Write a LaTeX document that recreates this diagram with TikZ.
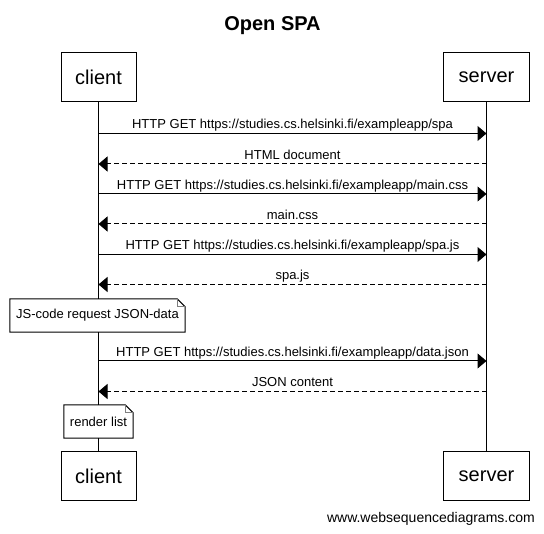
\documentclass[tikz,border=0pt]{standalone}
\usepackage{fontspec}
\setmainfont{Liberation Sans}
\usetikzlibrary{arrows.meta}

\begin{document}
\begin{tikzpicture}[x=1pt,y=-1pt,
  actor/.style={draw,line width=1pt,fill=white,inner sep=0pt,minimum height=49pt,font=\fontsize{20}{24}\selectfont},
  msg/.style={line width=1pt,-{Triangle[length=9pt,width=15pt]}},
  reply/.style={msg,dash pattern=on 5pt off 3pt},
  lbl/.style={midway,anchor=base,yshift=4.5pt,inner sep=0pt,font=\fontsize{13}{15}\selectfont},
  notebox/.style={fill=white,inner sep=0pt,minimum height=33pt,font=\fontsize{13}{15}\selectfont}]

\useasboundingbox (0,0) rectangle (544,534);

% 标题
\node[anchor=base,font=\bfseries\fontsize{20}{24}\selectfont] (title) at (272.5,31) {Open SPA};

% 参与者
\node[actor,minimum width=75pt] (clientTop) at (98.5,77.5) {client};
\node[actor,minimum width=86pt] (serverTop) at (486.5,77.5) {server};
\node[actor,minimum width=75pt] (clientBot) at (98.5,476) {client};
\node[actor,minimum width=86pt] (serverBot) at (486.5,476) {server};

% 生命线
\draw[line width=1pt] (clientTop) -- (clientBot);
\draw[line width=1pt] (serverTop) -- (serverBot);

% 消息端点
\foreach \n/\y in {1/133.5,2/164,3/194,4/224,5/254.5,6/284.5,7/361,8/391.5}{
  \coordinate (c\n) at (98.5,\y);
  \coordinate (s\n) at (486.5,\y);
}

% 消息
\draw[msg] (c1) -- (s1) node[lbl] {HTTP GET https://studies.cs.helsinki.fi/exampleapp/spa};
\draw[reply] (s2) -- (c2) node[lbl] {HTML document};
\draw[msg] (c3) -- (s3) node[lbl] {HTTP GET https://studies.cs.helsinki.fi/exampleapp/main.css};
\draw[reply] (s4) -- (c4) node[lbl] {main.css};
\draw[msg] (c5) -- (s5) node[lbl] {HTTP GET https://studies.cs.helsinki.fi/exampleapp/spa.js};
\draw[reply] (s6) -- (c6) node[lbl] {spa.js};
\draw[msg] (c7) -- (s7) node[lbl] {HTTP GET https://studies.cs.helsinki.fi/exampleapp/data.json};
\draw[reply] (s8) -- (c8) node[lbl] {JSON content};

% 注释
\node[notebox,minimum width=175pt] (note1) at (97.5,315.5) {JS-code request JSON-data};
\node[notebox,minimum width=69pt] (note2) at (98.5,421.5) {render list};
\foreach \nt in {note1,note2}{
  \draw[line width=1pt] (\nt.south west) -- (\nt.north west) -- ([xshift=-8pt]\nt.north east)
    -- ([yshift=-8pt]\nt.north east) -- (\nt.south east) -- cycle;
  \draw[gray,line width=0.8pt] ([xshift=-8pt]\nt.north east) -- ([xshift=-8pt,yshift=-8pt]\nt.north east)
    -- ([yshift=-8pt]\nt.north east);
}

% 水印
\node[anchor=base east,inner sep=0pt,font=\fontsize{14}{16}\selectfont] (wsd) at (535,522.5) {www.websequencediagrams.com};

\end{tikzpicture}
\end{document}
